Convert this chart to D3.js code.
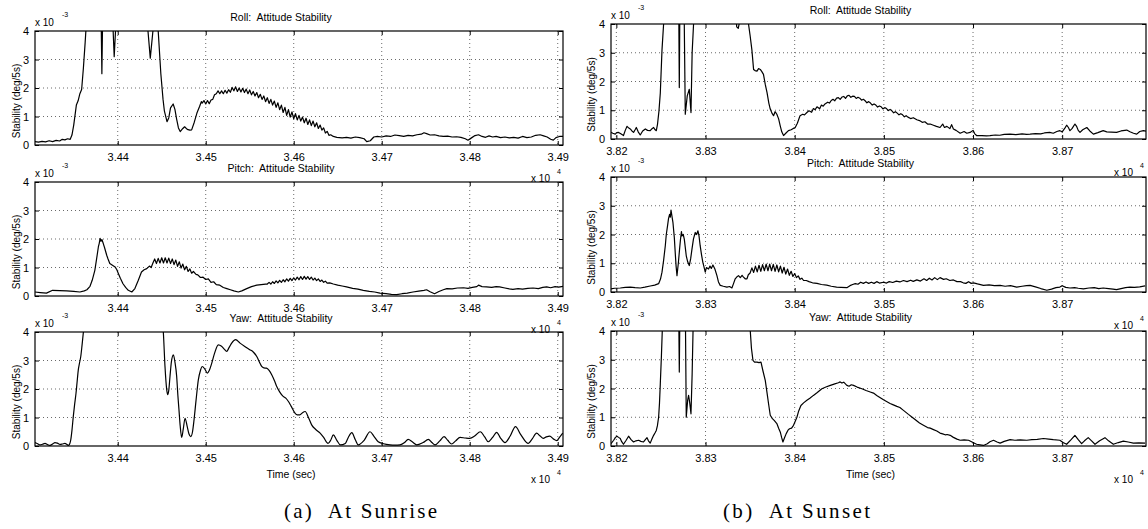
<!DOCTYPE html>
<html>
<head>
<meta charset="utf-8">
<script src="https://cdn.jsdelivr.net/npm/d3@7"></script>
<style>
  body { margin: 0; background: #fff; }
  svg text { font-family: "Liberation Sans", Arial, Helvetica, sans-serif; fill: #000; white-space: pre; }
</style>
</head>
<body>
<svg id="chart" width="1148" height="529"></svg>
<script>
// Values are stability in units of 1e-3 deg/5s, time in seconds.
const sunriseTicks = [34400, 34500, 34600, 34700, 34800, 34900];
const sunsetTicks = [38200, 38300, 38400, 38500, 38600, 38700];
const yTicks = [0, 1, 2, 3, 4];
const gridY = [1, 2, 3];
const titles = ["Roll:  Attitude Stability", "Pitch:  Attitude Stability", "Yaw:  Attitude Stability"];

const rollSunrise = [
[34306,0.12],[34310,0.10],[34314,0.13],[34318,0.11],[34322,0.15],[34326,0.12],[34330,0.16],[34334,0.14],[34337,0.20],[34340,0.18],[34343,0.22],[34346,0.20],[34348,0.35],[34350,0.70],[34353,1.40],[34355,1.55],[34357,1.80],[34359,1.95],[34361,2.70],[34363,3.60],[34365,4.6],[34372,5.5],[34381,4.8],[34382,2.5],[34383,4.8],[34390,5.2],[34394,4.6],[34396,3.1],[34398.5,4.6],[34410,5.5],[34425,5.2],[34433,4.5],[34437,3.05],[34440,4.0],[34443,4.6],[34446,4.0],[34449,2.5],[34451.5,1.6],[34453,1.2],[34456,0.82],[34458,0.95],[34460,1.3],[34463,1.44],[34465,1.25],[34467,0.9],[34469,0.6],[34471,0.47],[34474,0.58],[34476,0.64],[34479,0.55],[34482,0.52],[34484,0.53],[34487,0.80],[34490,1.12],[34493,1.35],[34495,1.52],
[34496,1.47],[34498,1.56],[34500,1.44],[34502,1.56],[34504,1.45],[34506,1.58],[34508,1.60],[34510,1.76],[34512,1.80],[34514,1.90],[34516,1.80],[34518,1.90],[34520,1.80],[34522,1.92],[34524,1.82],[34526,1.94],[34528,1.85],[34530,2.02],[34532,1.90],[34534,2.04],[34536,1.88],[34538,2.00],[34540,1.86],[34542,1.99],[34544,1.84],[34546,1.96],[34548,1.80],[34550,1.93],[34552,1.76],[34554,1.88],[34556,1.72],[34558,1.84],[34560,1.66],[34562,1.78],[34564,1.60],[34566,1.72],[34568,1.52],[34570,1.66],[34572,1.46],[34574,1.60],[34576,1.40],[34578,1.54],[34580,1.32],[34582,1.48],[34584,1.24],[34586,1.40],[34588,1.14],[34590,1.32],[34592,1.04],[34594,1.24],[34596,0.98],[34598,1.16],[34600,0.92],[34602,1.10],[34604,0.88],[34606,1.04],[34608,0.84],[34610,0.98],[34612,0.78],[34614,0.94],[34616,0.72],[34618,0.88],[34620,0.68],[34622,0.84],[34624,0.64],[34626,0.78],[34628,0.58],[34630,0.70],[34632,0.52],[34634,0.60],[34636,0.42],[34638,0.48],[34640,0.34],[34642,0.36],[34645,0.30],[34649,0.27],
[34655,0.25],[34660,0.27],[34665,0.24],[34670,0.28],[34675,0.26],[34680,0.22],[34683,0.12],[34687,0.15],[34691,0.28],[34695,0.30],[34700,0.28],[34705,0.32],[34710,0.30],[34715,0.35],[34720,0.33],[34725,0.30],[34730,0.34],[34735,0.32],[34740,0.36],[34745,0.38],[34748,0.43],[34751,0.40],[34755,0.35],[34760,0.36],[34765,0.32],[34770,0.30],[34775,0.31],[34780,0.28],[34785,0.29],[34790,0.27],[34795,0.22],[34798,0.17],[34802,0.25],[34806,0.33],[34810,0.36],[34814,0.30],[34818,0.27],[34822,0.32],[34826,0.28],[34830,0.30],[34835,0.26],[34840,0.28],[34845,0.25],[34850,0.27],[34855,0.24],[34860,0.30],[34865,0.26],[34870,0.28],[34875,0.34],[34880,0.36],[34884,0.32],[34888,0.28],[34892,0.20],[34895,0.17],[34898,0.26],[34902,0.30],[34906,0.30]
];

const pitchSunrise = [
[34306,0.14],[34312,0.12],[34319,0.10],[34326,0.20],[34334,0.19],[34342,0.18],[34350,0.16],[34357,0.14],[34362,0.18],[34365,0.22],[34368.5,0.34],[34371,0.55],[34374,0.90],[34376,1.30],[34378,1.72],[34379,1.85],[34380,2.02],[34381,1.92],[34382,1.98],[34383.6,1.84],[34385,1.70],[34387.5,1.43],[34389,1.30],[34391,1.14],[34394,1.08],[34397,1.02],[34399,0.92],[34400.7,0.79],[34403,0.62],[34406,0.43],[34409,0.30],[34412,0.20],[34416,0.14],[34419.5,0.26],[34423.4,0.55],[34427,0.84],[34430,0.92],[34433,0.96],[34436,1.05],[34438,1.00],
[34440,1.16],[34442,1.30],[34444,1.14],[34446,1.32],[34448,1.16],[34450,1.34],[34452,1.16],[34454,1.34],[34456,1.16],[34458,1.33],[34460,1.14],[34462,1.30],[34464,1.10],[34466,1.26],[34468,1.04],[34470,1.20],[34472,0.98],[34474,1.12],[34476,0.92],[34478,1.04],[34480,0.86],[34482,0.95],[34484,0.80],[34486,0.86],[34489,0.76],[34491,0.74],[34494,0.65],[34497,0.66],[34500,0.58],[34503,0.60],[34506,0.48],[34509,0.50],[34512,0.40],[34516,0.38],[34520,0.30],[34524,0.26],[34528,0.22],[34532,0.18],[34537,0.14],[34541,0.18],[34546.6,0.26],[34552,0.33],[34558,0.38],[34563,0.40],[34568,0.42],
[34570,0.42],[34572,0.48],[34574,0.42],[34576,0.50],[34578,0.44],[34580,0.53],[34582,0.46],[34584,0.55],[34586,0.48],[34588,0.57],[34590,0.50],[34592,0.60],[34594,0.52],[34596,0.62],[34598,0.54],[34600,0.64],[34602,0.56],[34604,0.66],[34606,0.57],[34608,0.68],[34610,0.58],[34612,0.69],[34614,0.59],[34616,0.68],[34618,0.58],[34620,0.66],[34622,0.56],[34624,0.63],[34626,0.54],[34628,0.60],[34630,0.51],[34632,0.56],[34634,0.48],[34636,0.52],[34638,0.45],[34641,0.46],[34645,0.42],[34650,0.38],[34655,0.35],[34660,0.32],[34667,0.27],[34673,0.24],[34679,0.20],[34686,0.16],[34692,0.14],[34698,0.10],[34705,0.08],[34711,0.06],[34717,0.05],[34723,0.08],[34729,0.10],[34735.5,0.14],[34742,0.17],[34748,0.20],[34751,0.22],[34755,0.15],[34760,0.08],[34765,0.16],[34770,0.22],[34774,0.26],[34780,0.25],[34786,0.28],[34793,0.29],[34798,0.27],[34803,0.30],[34808,0.33],[34810,0.38],[34814,0.33],[34819,0.32],[34825,0.30],[34830,0.33],[34834,0.32],[34840,0.28],[34845,0.25],[34849,0.23],[34855,0.26],[34860,0.24],[34866,0.27],[34872,0.28],[34878,0.26],[34883,0.30],[34887.5,0.32],[34892,0.29],[34897,0.33],[34901,0.31],[34906,0.34]
];

const yawSunrise = [
[34306,0.12],[34309,0.08],[34311.7,0.04],[34314.5,0.06],[34317.4,0.09],[34320,0.05],[34323,0.02],[34326,0.07],[34328.7,0.12],[34331.5,0.10],[34334.4,0.06],[34337,0.07],[34340,0.09],[34342,0.06],[34343.8,0.02],[34345.5,0.08],[34346.6,0.21],[34348,0.55],[34349.5,1.03],[34351,1.45],[34352.6,1.85],[34354,2.30],[34355.2,2.67],[34356.5,2.90],[34358,3.14],[34359.5,3.55],[34361,4.0],[34363,4.5],[34375,6],[34440,6],[34449,4.6],[34451.8,4.0],[34453.7,2.8],[34455.7,1.97],[34456.8,1.8],[34458,1.95],[34459.4,2.44],[34461,2.95],[34463.2,3.2],[34465,2.95],[34467,2.44],[34468.3,1.8],[34469.6,1.27],[34471,0.7],[34472.7,0.3],[34474.5,0.6],[34476.5,0.97],[34479,0.68],[34481,0.42],[34483,0.33],[34485,0.5],[34486.7,0.91],[34489,1.6],[34491.6,2.32],[34494,2.65],[34496,2.79],[34499,2.70],[34501.8,2.56],[34504,2.65],[34506.8,2.9],[34510,3.25],[34514.3,3.55],[34518,3.5],[34521,3.40],[34523.8,3.32],[34526.5,3.45],[34529.5,3.61],[34534,3.73],[34539,3.61],[34544,3.50],[34550,3.38],[34554,3.30],[34558,3.14],[34561,2.95],[34563.6,2.79],[34566,2.74],[34569,2.73],[34572,2.65],[34575,2.50],[34578,2.30],[34580.7,2.09],[34584,1.90],[34588,1.74],[34591,1.68],[34594,1.56],[34597,1.40],[34601.5,1.15],[34604,1.09],[34607,1.09],[34610,1.17],[34613,1.21],[34617,0.98],[34620.4,0.74],[34625,0.58],[34630,0.45],[34634,0.30],[34639,0.09],[34642,0.20],[34645,0.39],[34649,0.20],[34653,0.04],[34658.6,0.09],[34662,0.30],[34666,0.47],[34670,0.22],[34673.4,0.04],[34680,0.20],[34686.7,0.50],[34691,0.35],[34696,0.15],[34702,0.08],[34709.4,0.04],[34715,0.03],[34720.8,0.04],[34726,0.12],[34730,0.23],[34735,0.14],[34739.8,0.04],[34747,0.12],[34753,0.23],[34757,0.12],[34760.6,0.04],[34766,0.18],[34770.8,0.33],[34775,0.20],[34779.5,0.07],[34784,0.18],[34789,0.30],[34795,0.28],[34800,0.27],[34806,0.36],[34812,0.50],[34817,0.32],[34821,0.15],[34826,0.30],[34830.6,0.48],[34835,0.28],[34840,0.12],[34846,0.35],[34852,0.68],[34858,0.40],[34866.6,0.09],[34871,0.25],[34876,0.45],[34880,0.35],[34883.6,0.27],[34887,0.32],[34891,0.35],[34895,0.25],[34899,0.19],[34902,0.30],[34905.7,0.45]
];

const rollSunset = [
[38194,0.23],[38196,0.20],[38198.8,0.17],[38200.5,0.22],[38202.5,0.23],[38205,0.18],[38208,0.12],[38210,0.30],[38212,0.44],[38214,0.38],[38215.6,0.35],[38217.5,0.28],[38219.3,0.23],[38221,0.32],[38222.4,0.40],[38224.5,0.25],[38226.8,0.14],[38229.5,0.28],[38232.5,0.35],[38235,0.30],[38238,0.29],[38240,0.36],[38241.8,0.40],[38243.5,0.32],[38244.8,0.29],[38246.2,0.52],[38247.8,0.98],[38249.3,1.6],[38251.2,3.1],[38253,4.0],[38255,5.5],[38268,5.5],[38270,4.5],[38270.6,1.79],[38271.2,4.5],[38273,5],[38276,4.5],[38277.3,0.86],[38279.5,1.5],[38281.8,1.73],[38283.7,0.92],[38285,3],[38286.6,4.0],[38290,5.5],[38320,5.5],[38334,4.3],[38335,3.9],[38336.7,3.85],[38339,4.2],[38344,4.8],[38348.2,4.0],[38350,3.6],[38352,3.1],[38353.9,2.42],[38355.5,2.38],[38357.7,2.36],[38359.5,2.45],[38361.4,2.42],[38363,2.35],[38365,2.25],[38367,1.90],[38369,1.61],[38371,1.25],[38372.6,1.04],[38374.5,0.90],[38376.3,0.81],[38378,0.95],[38380,0.86],[38382,0.70],[38383.8,0.46],[38385.5,0.25],[38387.5,0.12],[38390,0.20],[38393,0.29],[38396,0.32],[38398,0.36],[38400.6,0.40],[38403,0.55],[38406,0.81],[38409,0.86],[38411,0.84],[38413.7,0.92],
[38416,0.98],[38419,0.93],[38421,1.06],[38423,1.02],[38425,1.12],[38428,1.05],[38430,1.18],[38432,1.14],[38434,1.22],[38437,1.28],[38439,1.25],[38441,1.34],[38443,1.38],[38445,1.33],[38447,1.42],[38449,1.44],[38451,1.38],[38453,1.46],[38455,1.48],[38457,1.41],[38459,1.50],[38461,1.52],[38463,1.45],[38465,1.49],[38467,1.48],[38469,1.41],[38471,1.45],[38473,1.42],[38475,1.35],[38477,1.38],[38479,1.33],[38481,1.26],[38483,1.30],[38485,1.25],[38487,1.18],[38489,1.22],[38491,1.18],[38493,1.11],[38495,1.15],[38497,1.12],[38499,1.05],[38501,1.09],[38503,1.06],[38505,0.99],[38507,1.03],[38509,0.98],[38511,0.91],[38513,0.95],[38515,0.90],[38517,0.84],[38519,0.88],[38521,0.84],[38523,0.77],[38525,0.81],[38527,0.76],[38530,0.71],[38533,0.74],[38537,0.67],[38540,0.64],[38543,0.58],[38546,0.60],[38549,0.52],[38552,0.52],[38555.6,0.48],[38559,0.44],[38563,0.40],[38566,0.52],[38568,0.40],[38570.7,0.44],[38574,0.36],[38576,0.50],[38578,0.35],[38581,0.30],[38585.6,0.20],[38590,0.26],[38593,0.20],[38596.7,0.23],[38600,0.30],[38602,0.18],[38604,0.12],[38610,0.12],[38615,0.11],[38619,0.12],[38625,0.14],[38630,0.13],[38635,0.16],[38641.6,0.17],[38648,0.15],[38655,0.18],[38660,0.16],[38664,0.17],[38670,0.19],[38676,0.18],[38680,0.21],[38686,0.23],[38690,0.20],[38694,0.26],[38697.4,0.29],[38700,0.25],[38703,0.38],[38705,0.48],[38707,0.40],[38708.7,0.29],[38711,0.36],[38714.3,0.52],[38716,0.45],[38718,0.30],[38720,0.23],[38723,0.32],[38727.6,0.40],[38731,0.28],[38735,0.17],[38740,0.22],[38746,0.29],[38750,0.25],[38755,0.24],[38761,0.23],[38766,0.28],[38772.4,0.31],[38776,0.25],[38780,0.20],[38783.6,0.17],[38787,0.26],[38791,0.29],[38794,0.27]
];

const pitchSunset = [
[38194,0.11],[38198,0.13],[38204.4,0.14],[38210,0.16],[38215.6,0.17],[38221,0.15],[38226.8,0.14],[38232,0.17],[38238,0.21],[38243,0.24],[38247.4,0.29],[38249.5,0.45],[38251.2,0.69],[38253,1.1],[38254.9,1.61],[38256,2.0],[38257.4,2.3],[38258.5,2.55],[38259.7,2.7],[38260.5,2.6],[38261.3,2.85],[38262.3,2.65],[38263.5,2.41],[38265,1.9],[38266,1.38],[38267,0.9],[38268,0.57],[38269.5,1.0],[38270.9,1.49],[38272,1.85],[38273,2.1],[38273.6,1.95],[38275,2.0],[38276.2,1.84],[38277.3,1.55],[38278.4,1.26],[38280,1.05],[38281.8,0.92],[38283.3,1.15],[38284.8,1.49],[38286.5,1.85],[38288.5,2.07],[38290,2.0],[38291.5,2.13],[38292.7,1.95],[38294,1.61],[38295.5,1.3],[38297,1.03],[38298.5,0.85],[38299.7,0.69],[38301,0.85],[38303.4,0.80],[38305,0.90],[38306.5,0.82],[38308.3,0.94],[38310.5,0.80],[38312.8,0.57],[38314.5,0.35],[38316.5,0.23],[38320,0.20],[38324,0.17],[38327,0.19],[38329.6,0.14],[38331.5,0.30],[38333.3,0.46],[38335,0.52],[38337,0.57],[38339,0.50],[38341,0.58],[38342.6,0.52],[38344.5,0.46],[38346.5,0.46],[38348,0.60],
[38350,0.66],[38352,0.84],[38354,0.68],[38356,0.90],[38358,0.70],[38360,0.93],[38362,0.72],[38364,0.95],[38366,0.74],[38368,0.97],[38370,0.74],[38372,0.97],[38374,0.74],[38376,0.96],[38378,0.72],[38380,0.94],[38382,0.70],[38384,0.90],[38386,0.66],[38388,0.86],[38390,0.62],[38392,0.80],[38394,0.58],[38396,0.72],[38398,0.54],[38400,0.64],[38402,0.50],[38404,0.56],[38406,0.44],[38408,0.48],[38410,0.40],[38413,0.40],[38416,0.36],[38420,0.32],[38425,0.30],[38430,0.26],[38436,0.24],[38441,0.20],[38447,0.17],[38452,0.16],[38458.5,0.15],[38462,0.22],[38465,0.26],[38468,0.29],
[38471,0.27],[38474,0.34],[38477,0.30],[38480,0.35],[38483,0.30],[38486,0.34],[38489,0.30],[38492,0.36],[38495,0.31],[38499.6,0.34],[38503,0.31],[38506,0.36],[38510,0.33],[38514,0.38],[38518,0.35],[38522,0.40],[38526,0.36],[38530,0.41],[38533,0.37],[38537,0.42],[38541,0.38],[38545,0.46],[38548,0.40],[38551,0.48],[38554,0.42],[38557,0.50],[38560,0.43],[38563,0.50],[38567,0.44],[38570,0.46],[38574,0.40],[38578,0.42],[38582,0.36],[38586,0.36],[38589,0.32],[38592,0.30],[38595,0.36],[38598,0.30],[38600.5,0.32],[38605,0.28],[38611.7,0.23],[38618,0.25],[38624,0.22],[38630.4,0.23],[38636,0.20],[38642,0.22],[38649,0.17],[38655,0.20],[38660,0.22],[38664,0.23],[38670,0.18],[38676,0.12],[38682.8,0.06],[38688,0.10],[38693,0.15],[38697.4,0.17],[38700,0.22],[38704,0.16],[38708.7,0.14],[38714,0.15],[38718,0.13],[38723.8,0.11],[38730,0.14],[38736,0.15],[38741,0.12],[38746,0.14],[38752,0.12],[38757,0.10],[38761,0.08],[38766,0.12],[38771,0.15],[38776,0.17],[38781,0.16],[38787,0.18],[38793,0.21]
];

const yawSunset = [
[38194,0.08],[38197,0.20],[38199,0.30],[38200.7,0.34],[38202.5,0.30],[38204.4,0.26],[38206,0.15],[38208,0.06],[38211,0.20],[38213.7,0.34],[38216.5,0.22],[38219.3,0.14],[38222,0.18],[38225,0.20],[38227.5,0.16],[38230.5,0.14],[38232.5,0.22],[38234.4,0.29],[38236,0.18],[38238,0.10],[38240,0.25],[38241.8,0.37],[38243.3,0.45],[38244.8,0.54],[38246,0.70],[38247.4,1.0],[38248.4,1.5],[38249.3,2.17],[38250.5,3.1],[38251.5,4.0],[38254,5.5],[38268,5.5],[38270,4.5],[38270.6,2.57],[38271.2,4.5],[38275,5],[38277.5,4.3],[38278.4,1.0],[38280,1.6],[38281,1.76],[38282.3,1.5],[38283.7,1.12],[38285,2.5],[38286,4.0],[38290,5.5],[38340,5.5],[38348,4.5],[38350.2,4.0],[38351.5,3.4],[38353.2,2.98],[38355,2.92],[38357.7,2.92],[38360,2.90],[38362.2,2.92],[38364.5,2.6],[38367,2.28],[38369,1.85],[38370.7,1.47],[38372.6,1.07],[38375,0.95],[38377,0.89],[38380,0.78],[38382,0.62],[38383.8,0.49],[38385.5,0.28],[38386.8,0.14],[38388.5,0.28],[38390.5,0.43],[38392.5,0.55],[38394.2,0.6],[38396.5,0.62],[38398.7,0.72],[38400.5,0.85],[38402.5,1.0],[38404.5,1.22],[38407,1.41],[38410,1.50],[38413.7,1.59],[38417,1.66],[38421,1.76],[38425,1.85],[38430.5,1.99],[38435,2.05],[38440,2.11],[38445,2.16],[38449,2.20],[38451,2.23],[38453,2.19],[38455,2.22],[38458.5,2.11],[38461,2.08],[38463.5,2.13],[38466,2.11],[38470,2.05],[38475.4,1.99],[38480,1.93],[38484.7,1.88],[38488.4,1.84],[38492,1.76],[38496,1.68],[38499.6,1.61],[38503,1.55],[38507,1.48],[38510,1.44],[38514.6,1.38],[38518,1.34],[38522,1.24],[38527.6,1.10],[38531,1.02],[38535,0.92],[38540,0.80],[38544.4,0.72],[38549,0.64],[38552,0.62],[38555,0.58],[38559.4,0.52],[38563,0.45],[38566,0.42],[38568.7,0.39],[38571,0.40],[38574.4,0.37],[38578,0.30],[38582,0.24],[38585.6,0.20],[38590,0.21],[38595,0.20],[38600,0.12],[38604,0.06],[38608,0.04],[38611.7,0.02],[38616,0.08],[38619,0.15],[38623,0.20],[38627,0.14],[38630.4,0.10],[38635,0.16],[38641.6,0.22],[38647,0.20],[38653,0.21],[38660.3,0.20],[38666,0.22],[38672,0.23],[38679,0.26],[38685,0.24],[38690,0.22],[38697.4,0.20],[38701,0.12],[38705,0.06],[38710,0.22],[38714.3,0.37],[38718,0.22],[38721.8,0.08],[38725,0.18],[38729.2,0.29],[38733,0.18],[38736.8,0.06],[38742,0.18],[38748,0.29],[38752,0.18],[38757.4,0.06],[38763,0.12],[38768.6,0.17],[38774,0.14],[38779.8,0.10],[38786,0.11],[38793,0.10]
];

// Layout of the two columns of subplots
const columns = [
  { domain: [34306, 34906], ticks: sunriseTicks, series: [rollSunrise, pitchSunrise, yawSunrise],
    smooth: [false, false, true], x0: 35, x1: 563, tops: [31, 182, 332], h: 114,
    ylabX: 20, caption: "(a)  At Sunrise", capX: [284, 437] },
  { domain: [38194, 38794], ticks: sunsetTicks, series: [rollSunset, pitchSunset, yawSunset],
    smooth: [false, false, false], x0: 611, x1: 1146, tops: [24, 177, 331], h: 115,
    ylabX: 595, caption: "(b)  At Sunset", capX: [723, 870] }
];

const svg = d3.select("#chart");
const fmt = d3.format(".2f");

columns.forEach((col, ci) => {
  const x = d3.scaleLinear().domain(col.domain).range([col.x0, col.x1]);

  col.series.forEach((data, pi) => {
    const top = col.tops[pi];
    const bottom = top + col.h;
    const y = d3.scaleLinear().domain([0, 4]).range([bottom, top]);
    const g = svg.append("g");
    const clipId = `clip-${ci}-${pi}`;

    svg.append("clipPath").attr("id", clipId)
      .append("rect")
      .attr("x", col.x0).attr("y", top)
      .attr("width", col.x1 - col.x0).attr("height", col.h);

    // dotted grid
    g.selectAll(".gx").data(col.ticks).join("line")
      .attr("x1", d => x(d)).attr("x2", d => x(d))
      .attr("y1", top).attr("y2", bottom)
      .attr("stroke", "#444").attr("stroke-width", 0.8).attr("stroke-dasharray", "1,3");
    g.selectAll(".gy").data(gridY).join("line")
      .attr("x1", col.x0).attr("x2", col.x1)
      .attr("y1", d => y(d)).attr("y2", d => y(d))
      .attr("stroke", "#444").attr("stroke-width", 0.8).attr("stroke-dasharray", "1,3");

    // the trace
    const line = d3.line()
      .x(d => x(d[0])).y(d => y(d[1]))
      .curve(col.smooth[pi] ? d3.curveMonotoneX : d3.curveLinear);
    g.append("path").datum(data)
      .attr("clip-path", `url(#${clipId})`)
      .attr("fill", "none").attr("stroke", "#000").attr("stroke-width", 1.2)
      .attr("stroke-linejoin", "round")
      .attr("d", line);

    // axes with inward ticks on all sides
    const axB = g.append("g").attr("transform", `translate(0,${bottom})`)
      .call(d3.axisBottom(x).tickValues(col.ticks).tickFormat(d => fmt(d / 1e4))
        .tickSizeInner(-4).tickSizeOuter(0).tickPadding(8));
    const axT = g.append("g").attr("transform", `translate(0,${top})`)
      .call(d3.axisTop(x).tickValues(col.ticks).tickFormat("").tickSizeInner(-4).tickSizeOuter(0));
    const axL = g.append("g").attr("transform", `translate(${col.x0},0)`)
      .call(d3.axisLeft(y).tickValues(yTicks).tickFormat(d3.format("d"))
        .tickSizeInner(-4).tickSizeOuter(0).tickPadding(6));
    const axR = g.append("g").attr("transform", `translate(${col.x1},0)`)
      .call(d3.axisRight(y).tickValues(yTicks).tickFormat("").tickSizeInner(-4).tickSizeOuter(0));
    [axB, axT, axL, axR].forEach(a => {
      a.select(".domain").remove();
      a.selectAll("line").attr("stroke", "#000");
      a.selectAll("text").attr("font-size", 11).attr("font-family", "Liberation Sans, Arial, sans-serif");
    });

    // box
    g.append("rect")
      .attr("x", col.x0).attr("y", top)
      .attr("width", col.x1 - col.x0).attr("height", col.h)
      .attr("fill", "none").attr("stroke", "#000").attr("stroke-width", 1.2);

    // title
    g.append("text")
      .attr("x", (col.x0 + col.x1) / 2 - 18).attr("y", top - 10)
      .attr("text-anchor", "middle").attr("font-size", 10.5)
      .text(titles[pi]);

    // y multiplier x 10^-3
    g.append("text").attr("x", col.x0).attr("y", top - 5)
      .attr("font-size", 10).text("x 10");
    g.append("text").attr("x", col.x0 + 27).attr("y", top - 14)
      .attr("font-size", 7).text("-3");

    // x multiplier x 10^4
    g.append("text").attr("x", col.x1 - 13).attr("y", bottom + 37)
      .attr("text-anchor", "end").attr("font-size", 10).text("x 10");
    g.append("text").attr("x", col.x1 - 6).attr("y", bottom + 29)
      .attr("font-size", 7).text("4");

    // y label
    g.append("text")
      .attr("transform", `translate(${col.ylabX},${(top + bottom) / 2 + 13}) rotate(-90)`)
      .attr("text-anchor", "middle").attr("font-size", 10)
      .text("Stability (deg/5s)");

    if (pi === 2) {
      g.append("text")
        .attr("x", (col.x0 + col.x1) / 2 - 8).attr("y", bottom + 32)
        .attr("text-anchor", "middle").attr("font-size", 10.5)
        .text("Time (sec)");
    }
  });

  // subfigure caption
  svg.append("text")
    .attr("x", col.capX[0]).attr("y", 518)
    .attr("font-size", 21)
    .attr("textLength", col.capX[1] - col.capX[0]).attr("lengthAdjust", "spacing")
    .style("font-family", "'Liberation Serif', 'DejaVu Serif', serif")
    .text(col.caption);
});
</script>
</body>
</html>
